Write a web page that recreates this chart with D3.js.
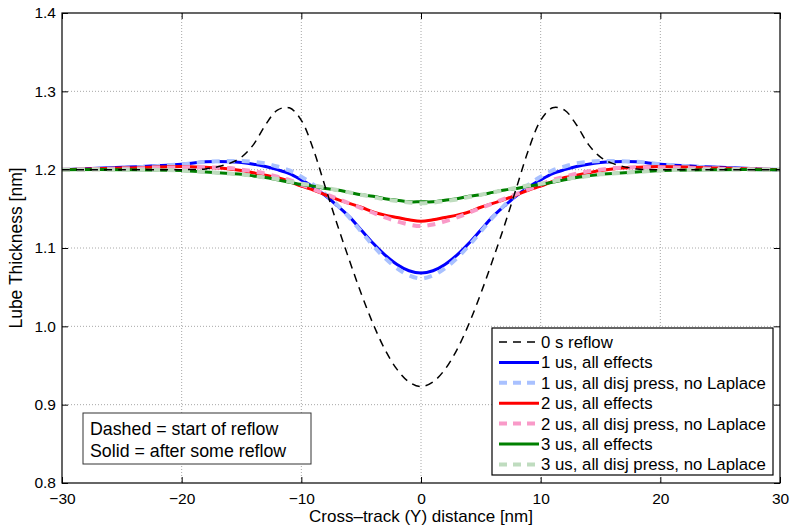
<!DOCTYPE html>
<html>
<head>
<meta charset="utf-8">
<script src="https://cdn.jsdelivr.net/npm/d3@7"></script>
<style>
  body { margin: 0; background: #fff; }
  svg { display: block; font-family: "Liberation Sans", Arial, Helvetica, sans-serif; }
</style>
</head>
<body>
<div id="chart"></div>
<script>
// cross-track position [nm]
const xs = [-30, -25, -20, -18, -16, -15, -14, -13, -12, -11, -10, -9, -8, -7, -6, -5, -4, -3, -2, -1,
  0, 1, 2, 3, 4, 5, 6, 7, 8, 9, 10, 11, 12, 13, 14, 15, 16, 18, 20, 25, 30];

const reflow0 = [1.2, 1.2, 1.2, 1.201, 1.208, 1.216, 1.232, 1.257, 1.276, 1.279, 1.263, 1.226, 1.178, 1.13, 1.085, 1.042, 1.003, 0.97, 0.945, 0.929,
  0.923, 0.929, 0.945, 0.97, 1.003, 1.042, 1.085, 1.13, 1.178, 1.226, 1.263, 1.279, 1.276, 1.257, 1.232, 1.216, 1.208, 1.201, 1.2, 1.2, 1.2];

const us1All = [1.2, 1.203, 1.207, 1.21, 1.21, 1.209, 1.207, 1.204, 1.2, 1.195, 1.187, 1.178, 1.167, 1.154, 1.14, 1.123, 1.106, 1.091, 1.079, 1.071,
  1.068, 1.071, 1.079, 1.091, 1.106, 1.123, 1.14, 1.154, 1.167, 1.178, 1.187, 1.195, 1.2, 1.204, 1.207, 1.209, 1.21, 1.21, 1.207, 1.203, 1.2];

const us1Disj = [1.2, 1.202, 1.207, 1.21, 1.211, 1.211, 1.21, 1.208, 1.204, 1.199, 1.191, 1.181, 1.169, 1.155, 1.139, 1.121, 1.103, 1.087, 1.074, 1.065,
  1.061, 1.065, 1.074, 1.087, 1.103, 1.121, 1.139, 1.155, 1.169, 1.181, 1.191, 1.199, 1.204, 1.208, 1.21, 1.211, 1.211, 1.21, 1.207, 1.202, 1.2];

const us2All = [1.2, 1.202, 1.204, 1.203, 1.201, 1.199, 1.196, 1.193, 1.19, 1.185, 1.179, 1.174, 1.168, 1.162, 1.157, 1.152, 1.146, 1.142, 1.139, 1.136,
  1.134, 1.136, 1.139, 1.142, 1.146, 1.152, 1.157, 1.162, 1.168, 1.174, 1.179, 1.185, 1.19, 1.193, 1.196, 1.199, 1.201, 1.203, 1.204, 1.202, 1.2];

const us2Disj = [1.2, 1.201, 1.203, 1.203, 1.202, 1.2, 1.198, 1.195, 1.191, 1.187, 1.181, 1.175, 1.169, 1.163, 1.157, 1.151, 1.145, 1.139, 1.134, 1.13,
  1.128, 1.13, 1.134, 1.139, 1.145, 1.151, 1.157, 1.163, 1.169, 1.175, 1.181, 1.187, 1.191, 1.195, 1.198, 1.2, 1.202, 1.203, 1.203, 1.201, 1.2];

const us3All = [1.2, 1.2, 1.199, 1.197, 1.195, 1.194, 1.192, 1.19, 1.187, 1.184, 1.181, 1.179, 1.176, 1.174, 1.171, 1.168, 1.166, 1.163, 1.161, 1.159,
  1.159, 1.159, 1.161, 1.163, 1.166, 1.168, 1.171, 1.174, 1.176, 1.179, 1.181, 1.184, 1.187, 1.19, 1.192, 1.194, 1.195, 1.197, 1.199, 1.2, 1.2];

const us3Disj = [1.2, 1.2, 1.199, 1.197, 1.195, 1.194, 1.192, 1.19, 1.188, 1.185, 1.182, 1.18, 1.177, 1.174, 1.171, 1.168, 1.165, 1.162, 1.16, 1.158,
  1.157, 1.158, 1.16, 1.162, 1.165, 1.168, 1.171, 1.174, 1.177, 1.18, 1.182, 1.185, 1.188, 1.19, 1.192, 1.194, 1.195, 1.197, 1.199, 1.2, 1.2];

const xTicks = [-30, -20, -10, 0, 10, 20, 30];
const yTicks = [0.8, 0.9, 1.0, 1.1, 1.2, 1.3, 1.4];

const series = [
  { name: "0 s reflow", values: reflow0, color: "#000000", width: 1.5, dash: "8,6" },
  { name: "1 us, all effects", values: us1All, color: "#0000ff", width: 3, dash: null },
  { name: "1 us, all disj press, no Laplace", values: us1Disj, color: "#a9c1ff", width: 4, dash: "8,7" },
  { name: "2 us, all effects", values: us2All, color: "#ff0000", width: 3, dash: null },
  { name: "2 us, all disj press, no Laplace", values: us2Disj, color: "#f99ac8", width: 4, dash: "8,7" },
  { name: "3 us, all effects", values: us3All, color: "#008000", width: 3, dash: null },
  { name: "3 us, all disj press, no Laplace", values: us3Disj, color: "#bfdcbf", width: 4, dash: "8,7" },
];

const W = 790, H = 529;
const margin = { top: 13, right: 10, bottom: 46, left: 62 };
const width = W - margin.left - margin.right,
  height = H - margin.top - margin.bottom;

const svg = d3.select("#chart").append("svg")
  .attr("width", W)
  .attr("height", H);

const graph = svg.append("g")
  .attr("transform", `translate(${margin.left}, ${margin.top})`);

const xScale = d3.scaleLinear().domain([-30, 30]).range([0, width]);
const yScale = d3.scaleLinear().domain([0.8, 1.4]).range([height, 0]);

// dotted grid
graph.append("g")
  .selectAll("line")
  .data(xTicks.slice(1, -1))
  .enter()
  .append("line")
  .attr("x1", (d) => xScale(d)).attr("x2", (d) => xScale(d))
  .attr("y1", 0).attr("y2", height)
  .attr("stroke", "#a8a8a8")
  .attr("stroke-dasharray", "1,2");

graph.append("g")
  .selectAll("line")
  .data(yTicks.slice(1, -1))
  .enter()
  .append("line")
  .attr("y1", (d) => yScale(d)).attr("y2", (d) => yScale(d))
  .attr("x1", 0).attr("x2", width)
  .attr("stroke", "#a8a8a8")
  .attr("stroke-dasharray", "1,2");

// axes, ticks pointing inwards
const tickLen = 6;
const xAxis = d3.axisBottom(xScale).tickValues(xTicks).tickSizeInner(-tickLen).tickSizeOuter(0).tickPadding(10);
const yAxis = d3.axisLeft(yScale).tickValues(yTicks).tickFormat(d3.format(".1f")).tickSizeInner(-tickLen).tickSizeOuter(0).tickPadding(6);

graph.append("g")
  .attr("transform", `translate(0, ${height})`)
  .call(xAxis);
graph.append("g").call(yAxis);

graph.append("g")
  .call(d3.axisTop(xScale).tickValues(xTicks).tickSizeInner(-tickLen).tickSizeOuter(0).tickFormat(""));
graph.append("g")
  .attr("transform", `translate(${width}, 0)`)
  .call(d3.axisRight(yScale).tickValues(yTicks).tickSizeInner(-tickLen).tickSizeOuter(0).tickFormat(""));

graph.selectAll(".domain").remove();
graph.selectAll(".tick line").attr("stroke", "#000");
graph.selectAll(".tick text")
  .attr("font-size", "15.5px")
  .attr("fill", "#000")
  .attr("font-family", "Liberation Sans, Arial, sans-serif");

// curves
svg.append("clipPath").attr("id", "plotclip")
  .append("rect").attr("width", width).attr("height", height);

const line = d3.line()
  .x((d, i) => xScale(xs[i]))
  .y((d) => yScale(d))
  .curve(d3.curveCatmullRom);

const drawOrder = [1, 2, 3, 4, 5, 6, 0];
graph.append("g")
  .attr("clip-path", "url(#plotclip)")
  .selectAll("path")
  .data(drawOrder.map((i) => series[i]))
  .enter()
  .append("path")
  .attr("fill", "none")
  .attr("stroke", (d) => d.color)
  .attr("stroke-width", (d) => d.width)
  .attr("stroke-dasharray", (d) => d.dash)
  .attr("d", (d) => line(d.values));

// box
graph.append("rect")
  .attr("width", width).attr("height", height)
  .attr("fill", "none").attr("stroke", "#000").attr("stroke-width", 1.2);

// axis titles
svg.append("text")
  .attr("x", margin.left + width / 2)
  .attr("y", 522)
  .attr("text-anchor", "middle")
  .attr("font-size", "17px")
  .text("Cross\u2013track (Y) distance [nm]");

svg.append("text")
  .attr("transform", `translate(22, ${margin.top + height / 2}) rotate(-90)`)
  .attr("text-anchor", "middle")
  .attr("font-size", "17.5px")
  .text("Lube Thickness [nm]");

// legend
const legend = svg.append("g").attr("transform", "translate(492, 328)");
legend.append("rect")
  .attr("width", 281).attr("height", 147)
  .attr("fill", "#fff").attr("stroke", "#000").attr("stroke-width", 1.2);

const rows = legend.selectAll(".legend")
  .data(series)
  .enter()
  .append("g")
  .attr("class", "legend")
  .attr("transform", (d, i) => `translate(0, ${14 + 20.4 * i})`);

rows.append("line")
  .attr("x1", 7).attr("x2", 47)
  .attr("stroke", (d) => d.color)
  .attr("stroke-width", (d) => d.width)
  .attr("stroke-dasharray", (d) => d.dash ? "8,6" : null);

rows.append("text")
  .attr("x", 49)
  .attr("dy", "0.36em")
  .attr("font-size", "16.8px")
  .text((d) => d.name);

// note box
const note = svg.append("g").attr("transform", "translate(83, 413)");
note.append("rect")
  .attr("width", 228).attr("height", 51)
  .attr("fill", "#fff").attr("stroke", "#333").attr("stroke-width", 1);
note.append("text").attr("x", 7).attr("y", 22).attr("font-size", "17.8px").text("Dashed = start of reflow");
note.append("text").attr("x", 7).attr("y", 44).attr("font-size", "17.8px").text("Solid = after some reflow");
</script>
</body>
</html>
